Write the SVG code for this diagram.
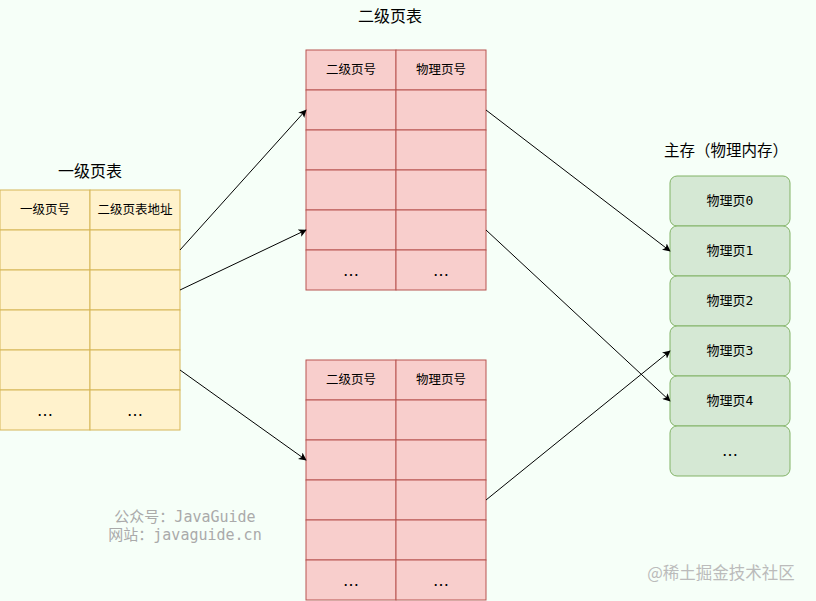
<svg xmlns="http://www.w3.org/2000/svg" width="816" height="601" viewBox="0 0 816 601">
<defs>
<marker id="arr" viewBox="0 0 10 10" refX="9" refY="5" markerWidth="8" markerHeight="8" markerUnits="userSpaceOnUse" orient="auto"><path d="M0,0 L10,5 L0,10 L2.5,5 Z" fill="#000"/></marker>
<style>
.t{font-family:"Noto Sans CJK SC","DejaVu Sans",sans-serif;fill:#000;text-anchor:middle}
.title{font-size:16px}
.cell{font-size:12.5px}
.dots{font-family:"DejaVu Sans",sans-serif;font-size:16px;fill:#000;text-anchor:middle}
.mono{font-family:"DejaVu Sans Mono","Noto Sans CJK SC",monospace;font-size:13px;text-anchor:middle;fill:#000}
.y rect{fill:#fff2cc;stroke:#d6b656}
.r rect{fill:#f8cecc;stroke:#b85450}
.g rect{fill:#d5e8d4;stroke:#82b366}
.ln{stroke:#000;stroke-width:1;fill:none;marker-end:url(#arr)}
</style>
</defs>
<rect width="816" height="601" fill="#f6fff8"/>

<text class="t title" x="90" y="177">一级页表</text>
<g id="l1table" class="y">
<rect x="0" y="190" width="90" height="40"/><rect x="90" y="190" width="90" height="40"/>
<rect x="0" y="230" width="90" height="40"/><rect x="90" y="230" width="90" height="40"/>
<rect x="0" y="270" width="90" height="40"/><rect x="90" y="270" width="90" height="40"/>
<rect x="0" y="310" width="90" height="40"/><rect x="90" y="310" width="90" height="40"/>
<rect x="0" y="350" width="90" height="40"/><rect x="90" y="350" width="90" height="40"/>
<rect x="0" y="390" width="90" height="40"/><rect x="90" y="390" width="90" height="40"/>
<text class="t cell" x="45" y="214">一级页号</text>
<text class="t cell" x="135" y="214">二级页表地址</text>
<text class="dots" x="45" y="416">…</text>
<text class="dots" x="135" y="416">…</text>
</g>

<text class="t title" x="390" y="22">二级页表</text>
<g id="l2tableA" class="r">
<rect x="306" y="50" width="90" height="40"/><rect x="396" y="50" width="90" height="40"/>
<rect x="306" y="90" width="90" height="40"/><rect x="396" y="90" width="90" height="40"/>
<rect x="306" y="130" width="90" height="40"/><rect x="396" y="130" width="90" height="40"/>
<rect x="306" y="170" width="90" height="40"/><rect x="396" y="170" width="90" height="40"/>
<rect x="306" y="210" width="90" height="40"/><rect x="396" y="210" width="90" height="40"/>
<rect x="306" y="250" width="90" height="40"/><rect x="396" y="250" width="90" height="40"/>
<text class="t cell" x="351" y="74">二级页号</text>
<text class="t cell" x="441" y="74">物理页号</text>
<text class="dots" x="351" y="276">…</text>
<text class="dots" x="441" y="276">…</text>
</g>

<g id="l2tableB" class="r">
<rect x="306" y="360" width="90" height="40"/><rect x="396" y="360" width="90" height="40"/>
<rect x="306" y="400" width="90" height="40"/><rect x="396" y="400" width="90" height="40"/>
<rect x="306" y="440" width="90" height="40"/><rect x="396" y="440" width="90" height="40"/>
<rect x="306" y="480" width="90" height="40"/><rect x="396" y="480" width="90" height="40"/>
<rect x="306" y="520" width="90" height="40"/><rect x="396" y="520" width="90" height="40"/>
<rect x="306" y="560" width="90" height="40"/><rect x="396" y="560" width="90" height="40"/>
<text class="t cell" x="351" y="384">二级页号</text>
<text class="t cell" x="441" y="384">物理页号</text>
<text class="dots" x="351" y="586">…</text>
<text class="dots" x="441" y="586">…</text>
</g>

<text class="t title" x="726" y="156" style="font-size:15.5px">主存（物理内存）</text>
<g id="mem0" class="g"><rect x="670" y="176" width="120" height="50" rx="7"/><text class="mono" x="730" y="205">物理页0</text></g>
<g id="mem1" class="g"><rect x="670" y="226" width="120" height="50" rx="7"/><text class="mono" x="730" y="255">物理页1</text></g>
<g id="mem2" class="g"><rect x="670" y="276" width="120" height="50" rx="7"/><text class="mono" x="730" y="305">物理页2</text></g>
<g id="mem3" class="g"><rect x="670" y="326" width="120" height="50" rx="7"/><text class="mono" x="730" y="355">物理页3</text></g>
<g id="mem4" class="g"><rect x="670" y="376" width="120" height="50" rx="7"/><text class="mono" x="730" y="405">物理页4</text></g>
<g id="mem5" class="g"><rect x="670" y="426" width="120" height="50" rx="7"/><text class="dots" x="730" y="456">…</text></g>

<g id="connectors">
<line class="ln" x1="180" y1="250" x2="306" y2="110"/>
<line class="ln" x1="180" y1="290" x2="306" y2="230"/>
<line class="ln" x1="180" y1="370" x2="306" y2="460"/>
<line class="ln" x1="486" y1="110" x2="670" y2="251"/>
<line class="ln" x1="486" y1="230" x2="670" y2="401"/>
<line class="ln" x1="486" y1="500" x2="670" y2="351"/>
</g>

<text x="185" y="522" font-family="DejaVu Sans Mono,Noto Sans CJK SC,monospace" font-size="15" fill="#aaaaaa" text-anchor="middle">公众号：JavaGuide</text>
<text x="185" y="540" font-family="DejaVu Sans Mono,Noto Sans CJK SC,monospace" font-size="15" fill="#aaaaaa" text-anchor="middle">网站：javaguide.cn</text>
<text x="721" y="579" font-family="Noto Sans CJK SC,sans-serif" font-size="16.5" fill="#bbbbbb" text-anchor="middle">@稀土掘金技术社区</text>
</svg>
